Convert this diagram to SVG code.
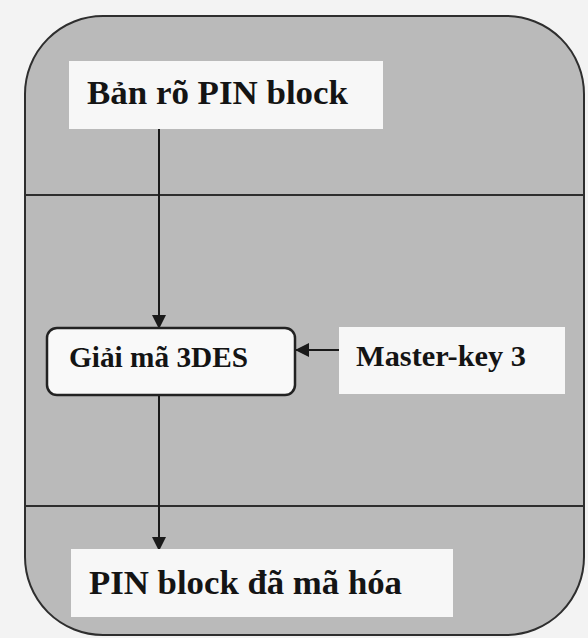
<svg xmlns="http://www.w3.org/2000/svg" width="588" height="638" viewBox="0 0 588 638">
<style>
.lbl{font-family:"Liberation Serif","Times New Roman",serif;font-weight:bold;fill:#141414}
.box{fill:#f7f7f7}
.conn{stroke:#1a1a1a;stroke-width:2;fill:none}
</style>
<defs>
<marker id="ah" markerWidth="14" markerHeight="14" viewBox="0 0 14 14" refX="13" refY="7" orient="auto" markerUnits="userSpaceOnUse">
<path d="M0,0 L14,7 L0,14 Z" fill="#1a1a1a"/>
</marker>
</defs>
<rect x="0" y="0" width="588" height="638" fill="#f3f3f3"/>
<g id="frame">
<rect x="25" y="16" width="559" height="619" rx="78" ry="78" fill="#bababa" stroke="#2e2e2e" stroke-width="2"/>
<line x1="25" y1="195" x2="584" y2="195" stroke="#2e2e2e" stroke-width="2"/>
<line x1="25" y1="506" x2="584" y2="506" stroke="#2e2e2e" stroke-width="2"/>
</g>
<g id="connectors">
<line class="conn" x1="159" y1="129" x2="159" y2="328" marker-end="url(#ah)"/>
<line class="conn" x1="159" y1="395" x2="159" y2="550" marker-end="url(#ah)"/>
<line class="conn" x1="339" y1="350" x2="296" y2="350" marker-end="url(#ah)"/>
</g>
<g id="node-plain">
<rect class="box" x="69" y="61" width="314" height="68"/>
<text class="lbl" x="87" y="104" font-size="33" textLength="261" lengthAdjust="spacingAndGlyphs">Bản rõ PIN block</text>
</g>
<g id="node-decrypt">
<rect x="47" y="328" width="248" height="67" rx="10" ry="10" fill="#f9f9f9" stroke="#222" stroke-width="2.5"/>
<text class="lbl" x="69" y="367" font-size="29" textLength="179" lengthAdjust="spacingAndGlyphs">Giải mã 3DES</text>
</g>
<g id="node-key">
<rect class="box" x="339" y="327" width="226" height="67"/>
<text class="lbl" x="356" y="366" font-size="30" textLength="170" lengthAdjust="spacingAndGlyphs">Master-key 3</text>
</g>
<g id="node-encrypted">
<rect class="box" x="71" y="549" width="382" height="68"/>
<text class="lbl" x="89" y="594" font-size="33" textLength="313" lengthAdjust="spacingAndGlyphs">PIN block đã mã hóa</text>
</g>
</svg>
